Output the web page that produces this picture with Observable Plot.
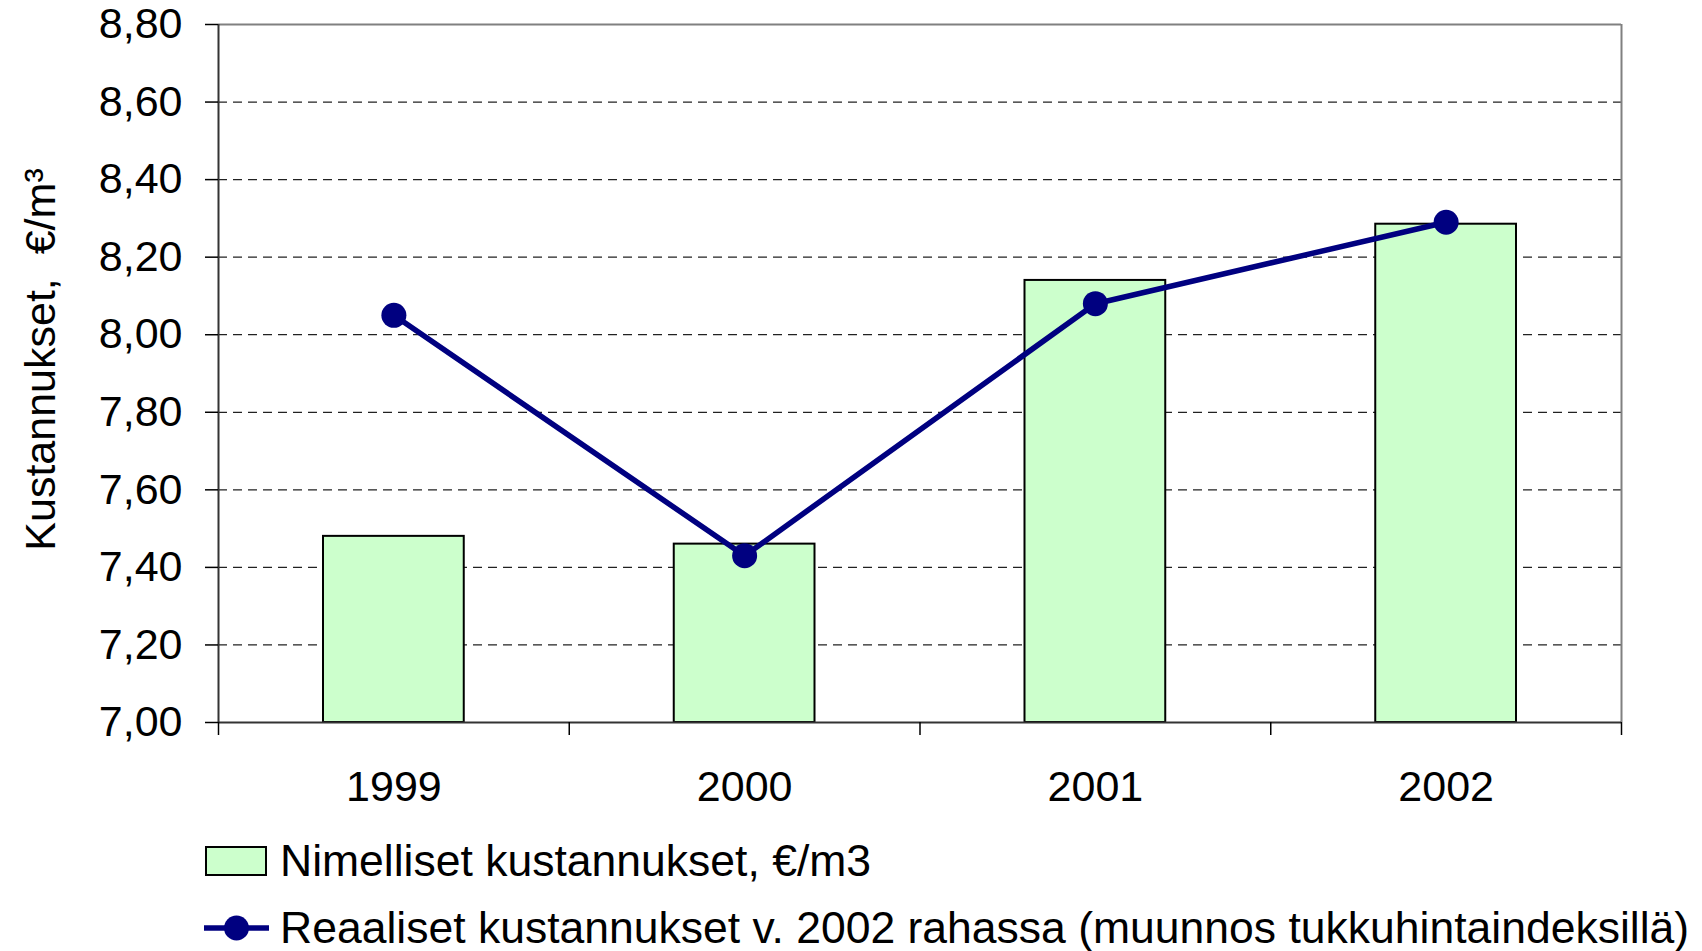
<!DOCTYPE html>
<html><head><meta charset="utf-8">
<script src="https://cdn.jsdelivr.net/npm/d3@7"></script>
<script src="https://cdn.jsdelivr.net/npm/@observablehq/plot@0.6"></script>
<style>
html,body{margin:0;padding:0;background:#fff;overflow:hidden;font-family:"Liberation Sans",Arial,sans-serif;}
#chart svg{display:block;}
#legend{padding-left:204px;font-size:44.5px;color:#000;}
.row{display:flex;align-items:center;white-space:nowrap;}
.row svg{display:block;margin-right:11px;}
</style></head><body>
<div id="chart"></div>
<div id="legend"></div>
<script>
const years = ["1999", "2000", "2001", "2002"];
const nominal = [7.48, 7.46, 8.14, 8.285];
const real = [8.05, 7.43, 8.08, 8.29];
const yTicks = [7.0, 7.2, 7.4, 7.6, 7.8, 8.0, 8.2, 8.4, 8.6, 8.8];
const seriesNames = ["Nimelliset kustannukset, €/m3", "Reaaliset kustannukset v. 2002 rahassa (muunnos tukkuhintaindeksillä)"];
const yLabel = "Kustannukset,\u00a0 €/m³";

const data = years.map((year, i) => ({year, i, nominal: nominal[i], real: real[i]}));
const fmt = v => d3.format(".2f")(v).replace(".", ",");
const bandEdges = d3.range(years.length + 1);
const bandCenters = years.map((_, i) => i + 0.5);

const chart = Plot.plot({
  width: 1702, height: 835,
  marginLeft: 218, marginRight: 81, marginTop: 24, marginBottom: 113,
  style: {fontFamily: "'Liberation Sans', Arial, sans-serif", fontSize: "43px", color: "#000", background: "#fff"},
  x: {domain: [0, years.length]},
  y: {domain: [7, 8.8]},
  marks: [
    Plot.ruleY(yTicks.slice(1, -1), {stroke: "#222", strokeWidth: 1.2, strokeDasharray: "9,6"}),
    Plot.rect(data, {x1: "i", x2: d => d.i + 1, y1: d => yTicks[0], y2: "nominal", insetLeft: 105, insetRight: 105, fill: "#ccffcc", stroke: "#000", strokeWidth: 2}),
    Plot.ruleY([yTicks[yTicks.length - 1]], {stroke: "#808080", strokeWidth: 2}),
    Plot.ruleX([years.length], {stroke: "#808080", strokeWidth: 2}),
    Plot.ruleX([0], {stroke: "#333", strokeWidth: 2}),
    Plot.ruleY([yTicks[0]], {stroke: "#333", strokeWidth: 2}),
    Plot.axisY({ticks: yTicks, tickFormat: fmt, tickSize: 13, tickPadding: 23, label: null, strokeWidth: 1.5}),
    Plot.axisX({ticks: bandEdges, tickFormat: () => "", tickSize: 13, label: null, strokeWidth: 1.5}),
    Plot.axisX({ticks: bandCenters, tickFormat: v => years[Math.floor(v)], tickSize: 0, tickPadding: 48, label: null}),
    Plot.line(data, {x: d => d.i + 0.5, y: "real", stroke: "#000080", strokeWidth: 5.5}),
    Plot.dot(data, {x: d => d.i + 0.5, y: "real", r: 12.5, fill: "#000080", stroke: "none"}),
    Plot.text([yLabel], {frameAnchor: "left", textAnchor: "middle", lineAnchor: "middle", rotate: -90, dx: -177, dy: -14, fontSize: 43, fill: "#000"})
  ]
});
document.getElementById("chart").appendChild(chart);

const legend = document.getElementById("legend");
legend.innerHTML = `
<div class="row" style="height:52px">
  <svg width="65" height="32"><rect x="2" y="2" width="60" height="28" fill="#ccffcc" stroke="#000" stroke-width="2"/></svg>
  <span>${seriesNames[0]}</span>
</div>
<div class="row" style="height:46px;margin-top:18px">
  <svg width="65" height="32"><line x1="0" x2="65" y1="16" y2="16" stroke="#000080" stroke-width="5.5"/><circle cx="32.5" cy="16" r="12.5" fill="#000080"/></svg>
  <span>${seriesNames[1]}</span>
</div>`;
</script>
</body></html>
